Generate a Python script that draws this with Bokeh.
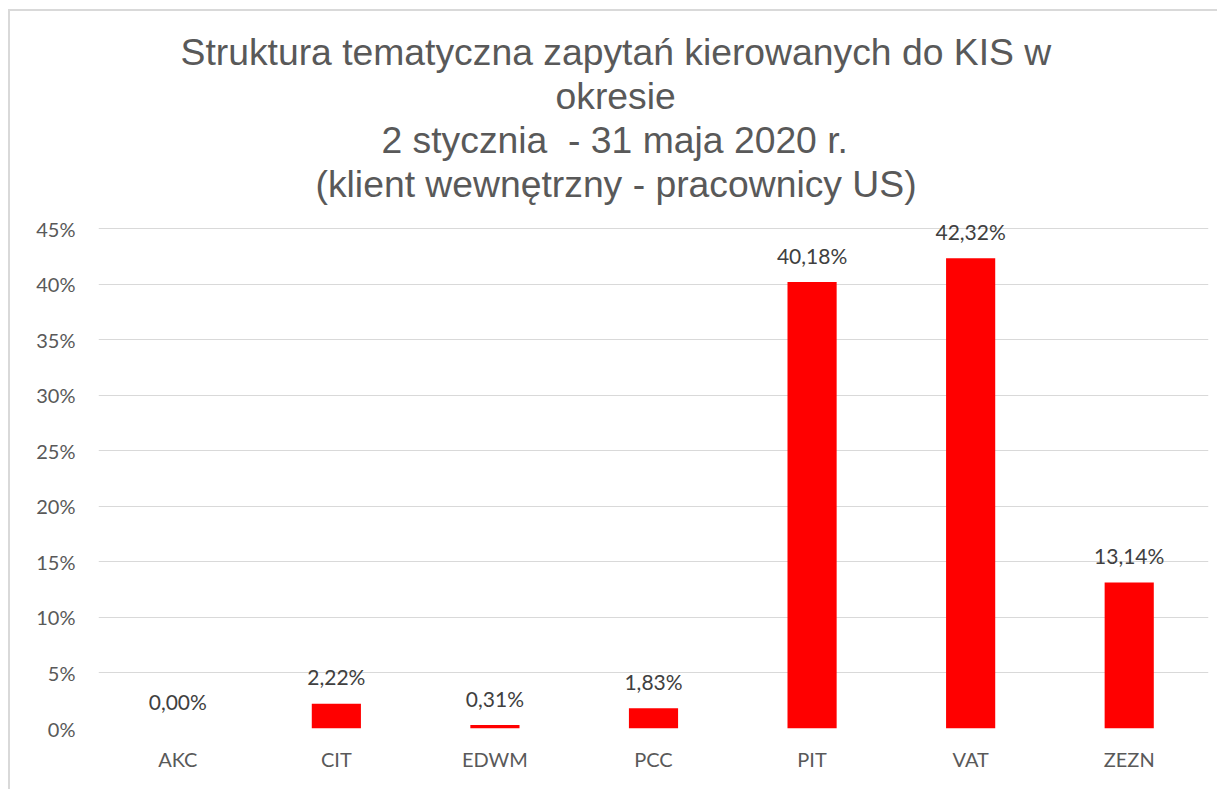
from bokeh.plotting import figure
from bokeh.models import ColumnDataSource, Range1d, NumeralTickFormatter, FixedTicker, Title
from bokeh.core.properties import value
from bokeh.embed import file_html
from bokeh.resources import INLINE

categories = ["AKC", "CIT", "EDWM", "PCC", "PIT", "VAT", "ZEZN"]
values_pct = [0.00, 2.22, 0.31, 1.83, 40.18, 42.32, 13.14]
y_tick_values = [0.0, 0.05, 0.10, 0.15, 0.20, 0.25, 0.30, 0.35, 0.40, 0.45]
title_lines = ["Struktura tematyczna zapytań kierowanych do KIS w",
               "okresie",
               "2 stycznia\u00a0 - 31 maja 2020 r.",
               "(klient wewnętrzny - pracownicy US)"]
# left offsets (px from plot frame) so that each line is centred on the chart area
title_offsets = [82, 457, 283, 217]

src = ColumnDataSource(dict(
    cat=categories,
    val=[v / 100 for v in values_pct],
    label=[f"{v:.2f}%".replace(".", ",") for v in values_pct],
))

# small headroom above 45% so the top data label is not clipped
p = figure(x_range=categories, y_range=Range1d(0, 0.468),
           width=1209, height=780, output_backend="svg", toolbar_location=None,
           min_border_left=88, min_border_right=11, min_border_bottom=63, min_border_top=197)

p.title = None
# spacer between title block and plot area
p.add_layout(Title(text=" ", text_font_size="2px", standoff=0), "above")
for line, off in zip(reversed(title_lines), reversed(title_offsets)):
    p.add_layout(Title(text=line, align="left", offset=off, text_font="Liberation Sans",
                       text_font_size="37.3px", text_font_style="normal", text_color="#595959",
                       standoff=0), "above")

p.vbar(x="cat", top="val", width=0.31, fill_color="#ff0000", line_color=None, source=src)
p.text(x="cat", y="val", text="label", source=src, text_align="center",
       text_baseline="alphabetic", y_offset=-27, text_font=value("Lato"),
       text_font_size="21px", text_color="#404040")

p.outline_line_color = None
p.xgrid.grid_line_color = None
p.ygrid.grid_line_color = "#d9d9d9"
p.ygrid.grid_line_width = 1
p.yaxis.ticker = FixedTicker(ticks=y_tick_values)
p.yaxis.formatter = NumeralTickFormatter(format="0%")
for ax in (p.xaxis, p.yaxis):
    ax.axis_line_color = None
    ax.major_tick_line_color = None
    ax.minor_tick_line_color = None
    ax.major_label_text_font = "Lato"
    ax.major_label_text_font_size = "20px"
    ax.major_label_text_color = "#595959"
p.yaxis.major_label_standoff = 17
p.xaxis.major_label_standoff = 12
p.styles = {"margin-left": "8px", "margin-top": "9px",
            "border-left": "2px solid #d9d9d9", "border-top": "2px solid #d9d9d9"}

open("out.html", "w").write(file_html(p, INLINE))
